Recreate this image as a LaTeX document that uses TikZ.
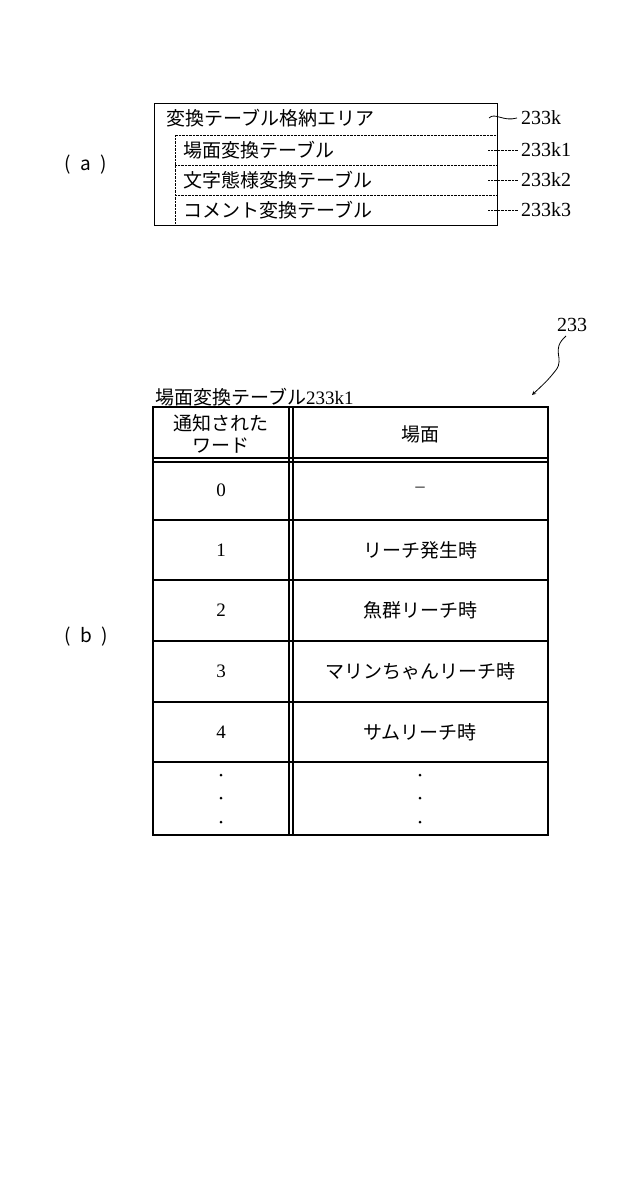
\documentclass[tikz,border=0pt]{standalone}
\usepackage{fontspec}
\newfontfamily\jp{Noto Sans CJK JP}
\setmainfont{Liberation Serif}
\usetikzlibrary{positioning,decorations.pathmorphing}

\begin{document}
\begin{tikzpicture}[x=1pt,y=-1pt,
    jtext/.style={font=\jp\fontsize{19}{22}\selectfont, inner sep=0pt},
    reftext/.style={font=\fontsize{20}{22}\selectfont, inner sep=0pt, anchor=west},
    cell/.style={font=\jp\fontsize{19}{22}\selectfont, inner sep=0pt, align=center},
    numtext/.style={font=\fontsize{19}{21}\selectfont, inner sep=0pt},
    leader/.style={densely dotted, thin},
    tline/.style={line width=1.4pt},
    arrow/.style={->, >=stealth}
]
\useasboundingbox (0,0) rectangle (640,1201);

% (a) storage area
\draw[thick] (154,103) rectangle (497,225);
\node[jtext, anchor=west] (area) at (166,118) {変換テーブル格納エリア};
\draw[leader] (175,225) -- (175,135) -- (497,135);
\draw[leader] (175,165) -- (497,165);
\draw[leader] (175,195) -- (497,195);
\node[jtext, anchor=west] (tbl1) at (183,150) {場面変換テーブル};
\node[jtext, anchor=west] (tbl2) at (183,180) {文字態様変換テーブル};
\node[jtext, anchor=west] (tbl3) at (183,210) {コメント変換テーブル};

\node[reftext] (r233k) at (521,118) {233k};
\node[reftext] (r233k1) at (521,150) {233k1};
\node[reftext] (r233k2) at (521,180) {233k2};
\node[reftext] (r233k3) at (521,210) {233k3};
\draw[thick] (489,118) .. controls (495,112) and (503,122) .. ([xshift=-4pt]r233k.west);
\foreach \r/\y in {r233k1/150,r233k2/180,r233k3/210}
    \draw[leader] (488,\y) -- ([xshift=-3pt]\r.west);

\node[font=\jp\fontsize{19}{22}\selectfont] (labela) at (86,165) {(\enspace a\enspace)};
\node[font=\jp\fontsize{19}{22}\selectfont] (labelb) at (86,637) {(\enspace b\enspace)};

% (b) scene conversion table
\node[jtext, anchor=south west] (title) at (155,406) {場面変換テーブル\fontspec{Liberation Serif}233k1};
\draw[tline] (153,407) rectangle (548,835);
\draw[tline] (153,458) -- (548,458);
\draw[tline] (153,462) -- (548,462);
\draw[tline] (289,407) -- (289,835);
\draw[tline] (293,407) -- (293,835);
\foreach \y in {520,580,641,702,762}
    \draw[tline] (153,\y) -- (548,\y);

\node[cell] (hword) at (221,434) {通知された\\ワード};
\node[cell] (hscene) at (420,434) {場面};
\foreach \w/\s/\y in {0/{\fontsize{13}{15}\selectfont －}/490, 1/リーチ発生時/550, 2/魚群リーチ時/610, 3/マリンちゃんリーチ時/671, 4/サムリーチ時/732} {
    \node[numtext] at (221,\y) {\w};
    \node[cell] at (420,\y) {\s};
}
\foreach \y in {775,798,822} {
    \fill (221,\y) circle (1.5);
    \fill (420,\y) circle (1.5);
}

\node[reftext, anchor=center] (r233) at (572,325) {233};
\coordinate (tip) at (532,395);
\draw[arrow, thick] (566,336) .. controls (550,350) and (565,358) .. (556,370)
    .. controls (548,380) .. (tip);
\end{tikzpicture}
\end{document}
